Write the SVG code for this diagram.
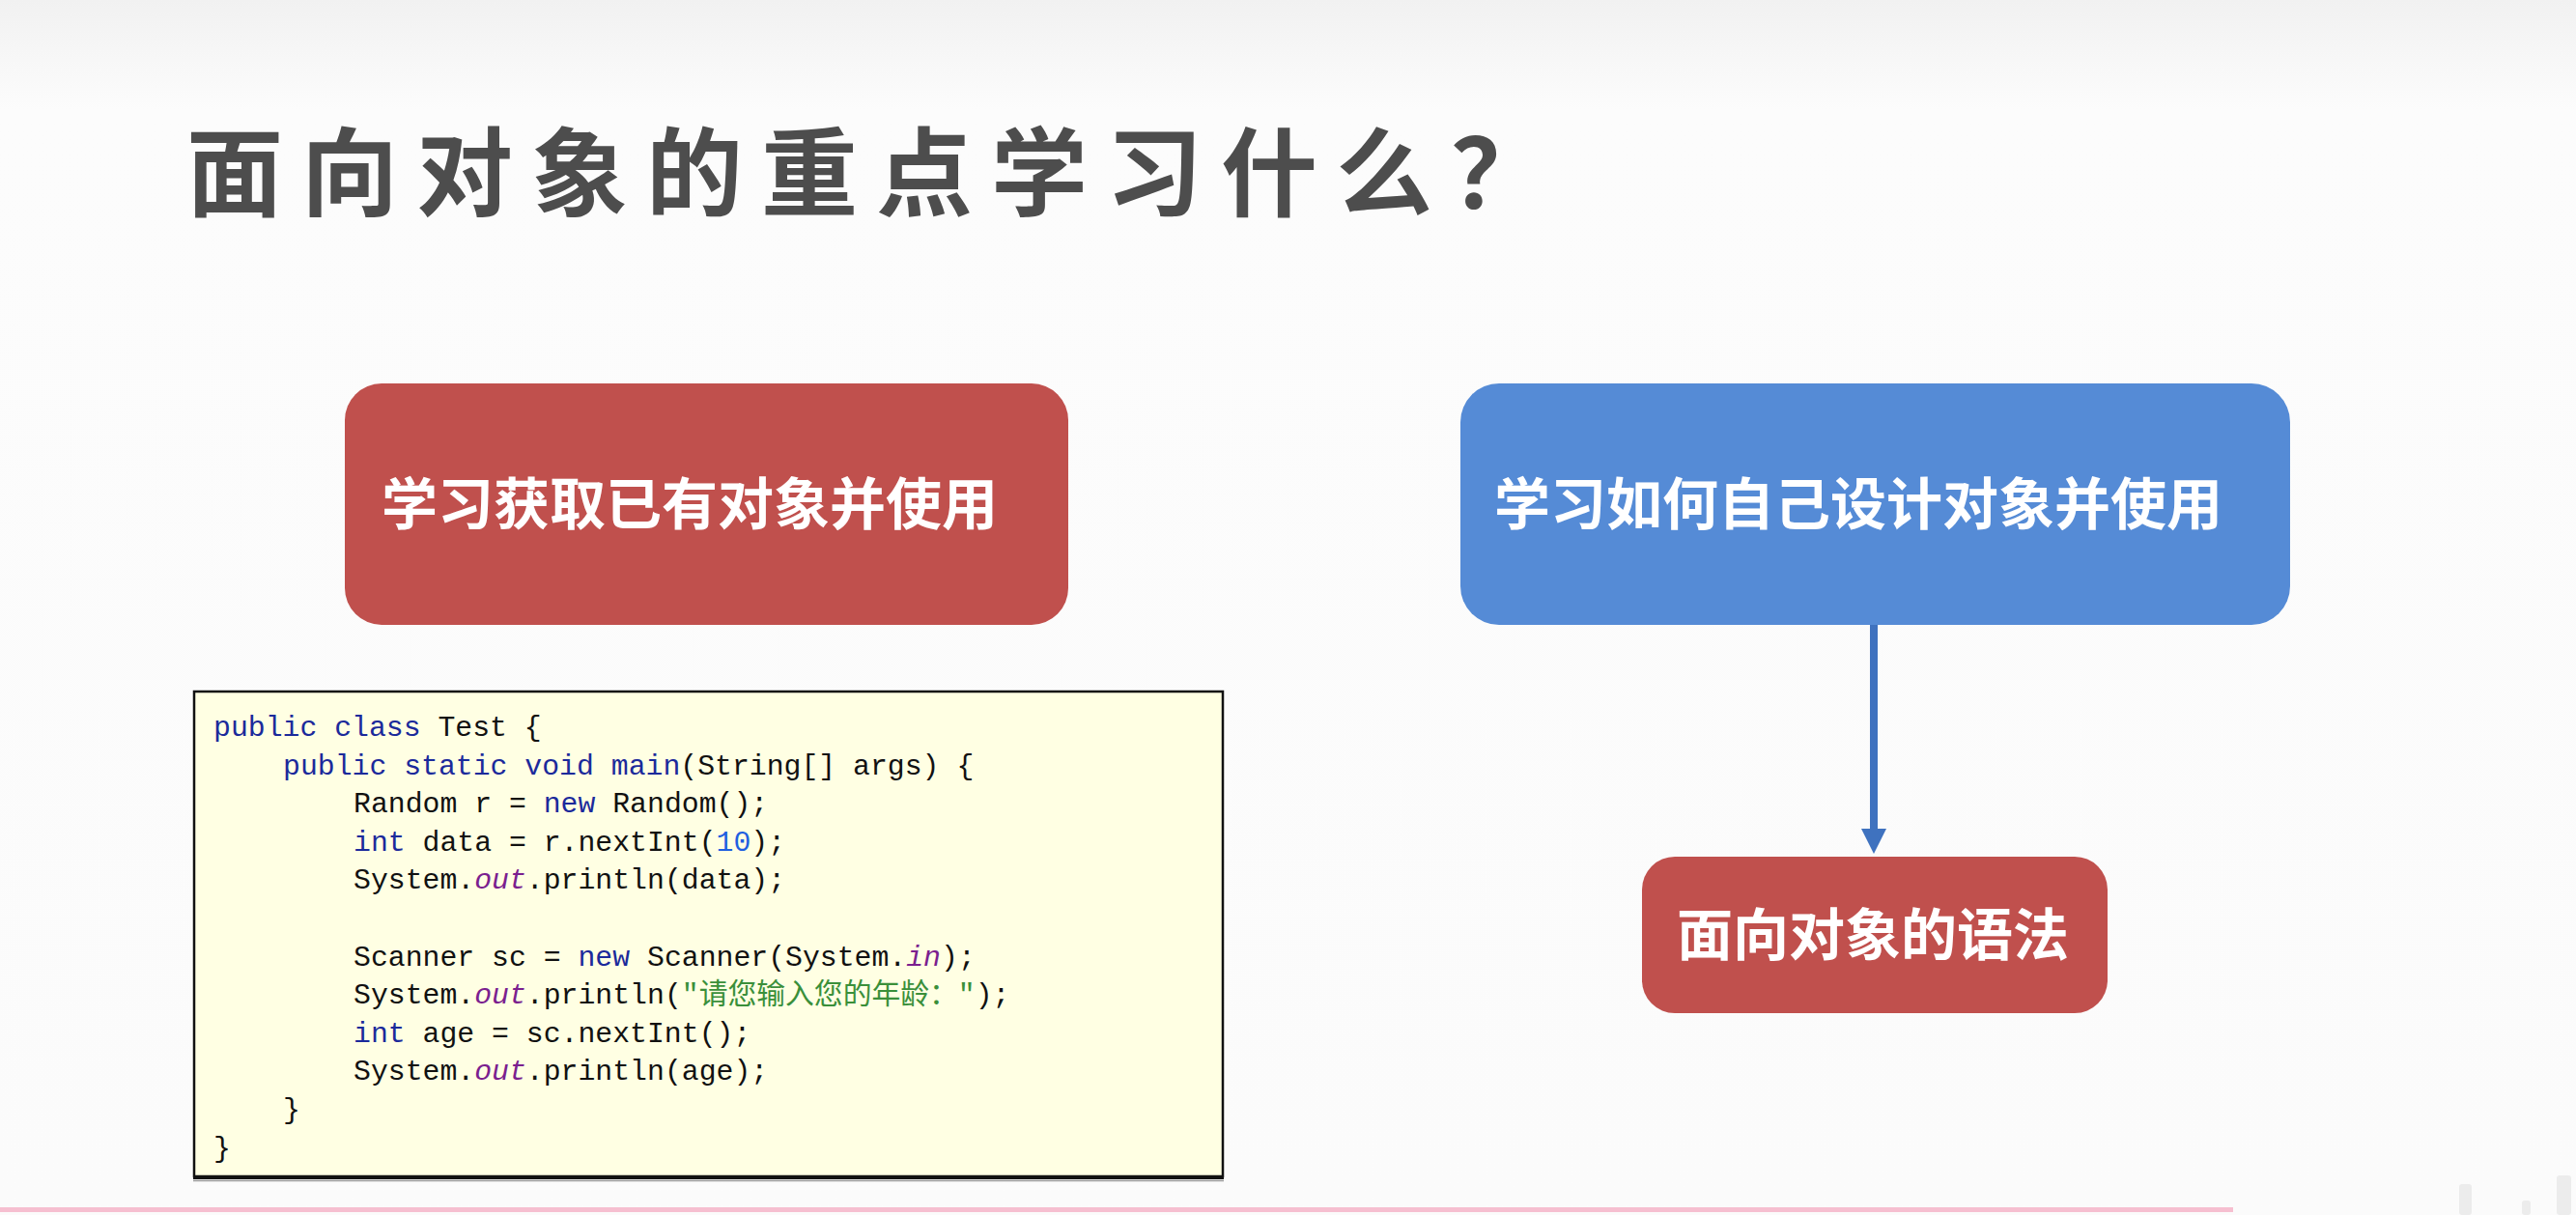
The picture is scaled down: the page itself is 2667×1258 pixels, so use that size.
<svg xmlns="http://www.w3.org/2000/svg" width="2667" height="1258" viewBox="0 0 2667 1258">
<defs>
<linearGradient id="bg" x1="0" y1="0" x2="0" y2="1">
<stop offset="0" stop-color="#f1f1f1"/>
<stop offset="0.09" stop-color="#fcfcfc"/>
<stop offset="1" stop-color="#fbfbfb"/>
</linearGradient>
<marker id="arrow" viewBox="0 0 26 26" markerUnits="userSpaceOnUse" markerWidth="26" markerHeight="26" refX="4" refY="13" orient="auto">
<path d="M0,0 L26,13 L0,26 z" fill="#3f72bf"/>
</marker>
<style>
.title{font-family:"Noto Sans CJK SC","Noto Sans CJK JP",sans-serif;font-weight:700;font-size:100px;letter-spacing:19px;fill:#4d4d4d}
.lbl{font-family:"Noto Sans CJK SC","Noto Sans CJK JP",sans-serif;font-weight:700;font-size:58px;fill:#ffffff}
.red{fill:#c0504d}
.blue{fill:#558bd6}
.code{font-family:"Liberation Mono","Noto Sans CJK SC",monospace;font-size:29.8px;fill:#111111}
.kw{fill:#1b2a9b}
.fld{fill:#7b1f8f;font-style:italic}
.num{fill:#1f5fe0}
.str{fill:#3a8f3a}
.conn{stroke:#3f72bf;stroke-width:8;fill:none}
</style>
</defs>
<rect x="0" y="0" width="2667" height="1258" fill="url(#bg)"/>
<text class="title" x="193" y="216">面向对象的重点学习什么？</text>

<g id="node-left">
<rect class="red" x="357" y="397" width="749" height="250" rx="38" ry="38"/>
<text class="lbl" x="395" y="543">学习获取已有对象并使用</text>
</g>

<g id="node-right">
<rect class="blue" x="1512" y="397" width="859" height="250" rx="40" ry="40"/>
<text class="lbl" x="1547" y="543">学习如何自己设计对象并使用</text>
</g>

<g id="node-bottom">
<rect class="red" x="1700" y="887" width="482" height="162" rx="34" ry="34"/>
<text class="lbl" x="1939" y="989" text-anchor="middle">面向对象的语法</text>
</g>

<g id="code-box">
<rect x="201" y="716" width="1065" height="502" fill="#ffffe3" stroke="#111111" stroke-width="2.5"/>
<line x1="200" y1="1219" x2="1267" y2="1219" stroke="#111111" stroke-width="4"/>
<line x1="200" y1="1222.5" x2="1267" y2="1222.5" stroke="#9a9a9a" stroke-width="1.5"/>
<text class="code" x="221" y="762"><tspan class="kw">public class</tspan> Test {</text>
<text class="code" x="293" y="801.6"><tspan class="kw">public static void</tspan> <tspan class="kw">main</tspan>(String[] args) {</text>
<text class="code" x="366" y="841.2">Random r = <tspan class="kw">new</tspan> Random();</text>
<text class="code" x="366" y="880.8"><tspan class="kw">int</tspan> data = r.nextInt(<tspan class="num">10</tspan>);</text>
<text class="code" x="366" y="920.4">System.<tspan class="fld">out</tspan>.println(data);</text>
<text class="code" x="366" y="999.6">Scanner sc = <tspan class="kw">new</tspan> Scanner(System.<tspan class="fld">in</tspan>);</text>
<text class="code" x="366" y="1039.2">System.<tspan class="fld">out</tspan>.println(<tspan class="str">"请您输入您的年龄："</tspan>);</text>
<text class="code" x="366" y="1078.8"><tspan class="kw">int</tspan> age = sc.nextInt();</text>
<text class="code" x="366" y="1118.4">System.<tspan class="fld">out</tspan>.println(age);</text>
<text class="code" x="293" y="1158">}</text>
<text class="code" x="221" y="1197.6">}</text>
</g>

<g id="connectors">
<line class="conn" x1="1940" y1="647" x2="1940" y2="862" marker-end="url(#arrow)"/>
</g>

<rect x="0" y="1250" width="2312" height="5" fill="#f6bfd0"/>
<g fill="#ececec">
<rect x="2546" y="1226" width="13" height="32" rx="3"/>
<rect x="2611" y="1243" width="9" height="15" rx="3"/>
<rect x="2647" y="1217" width="15" height="41" rx="3"/>
</g>
</svg>
